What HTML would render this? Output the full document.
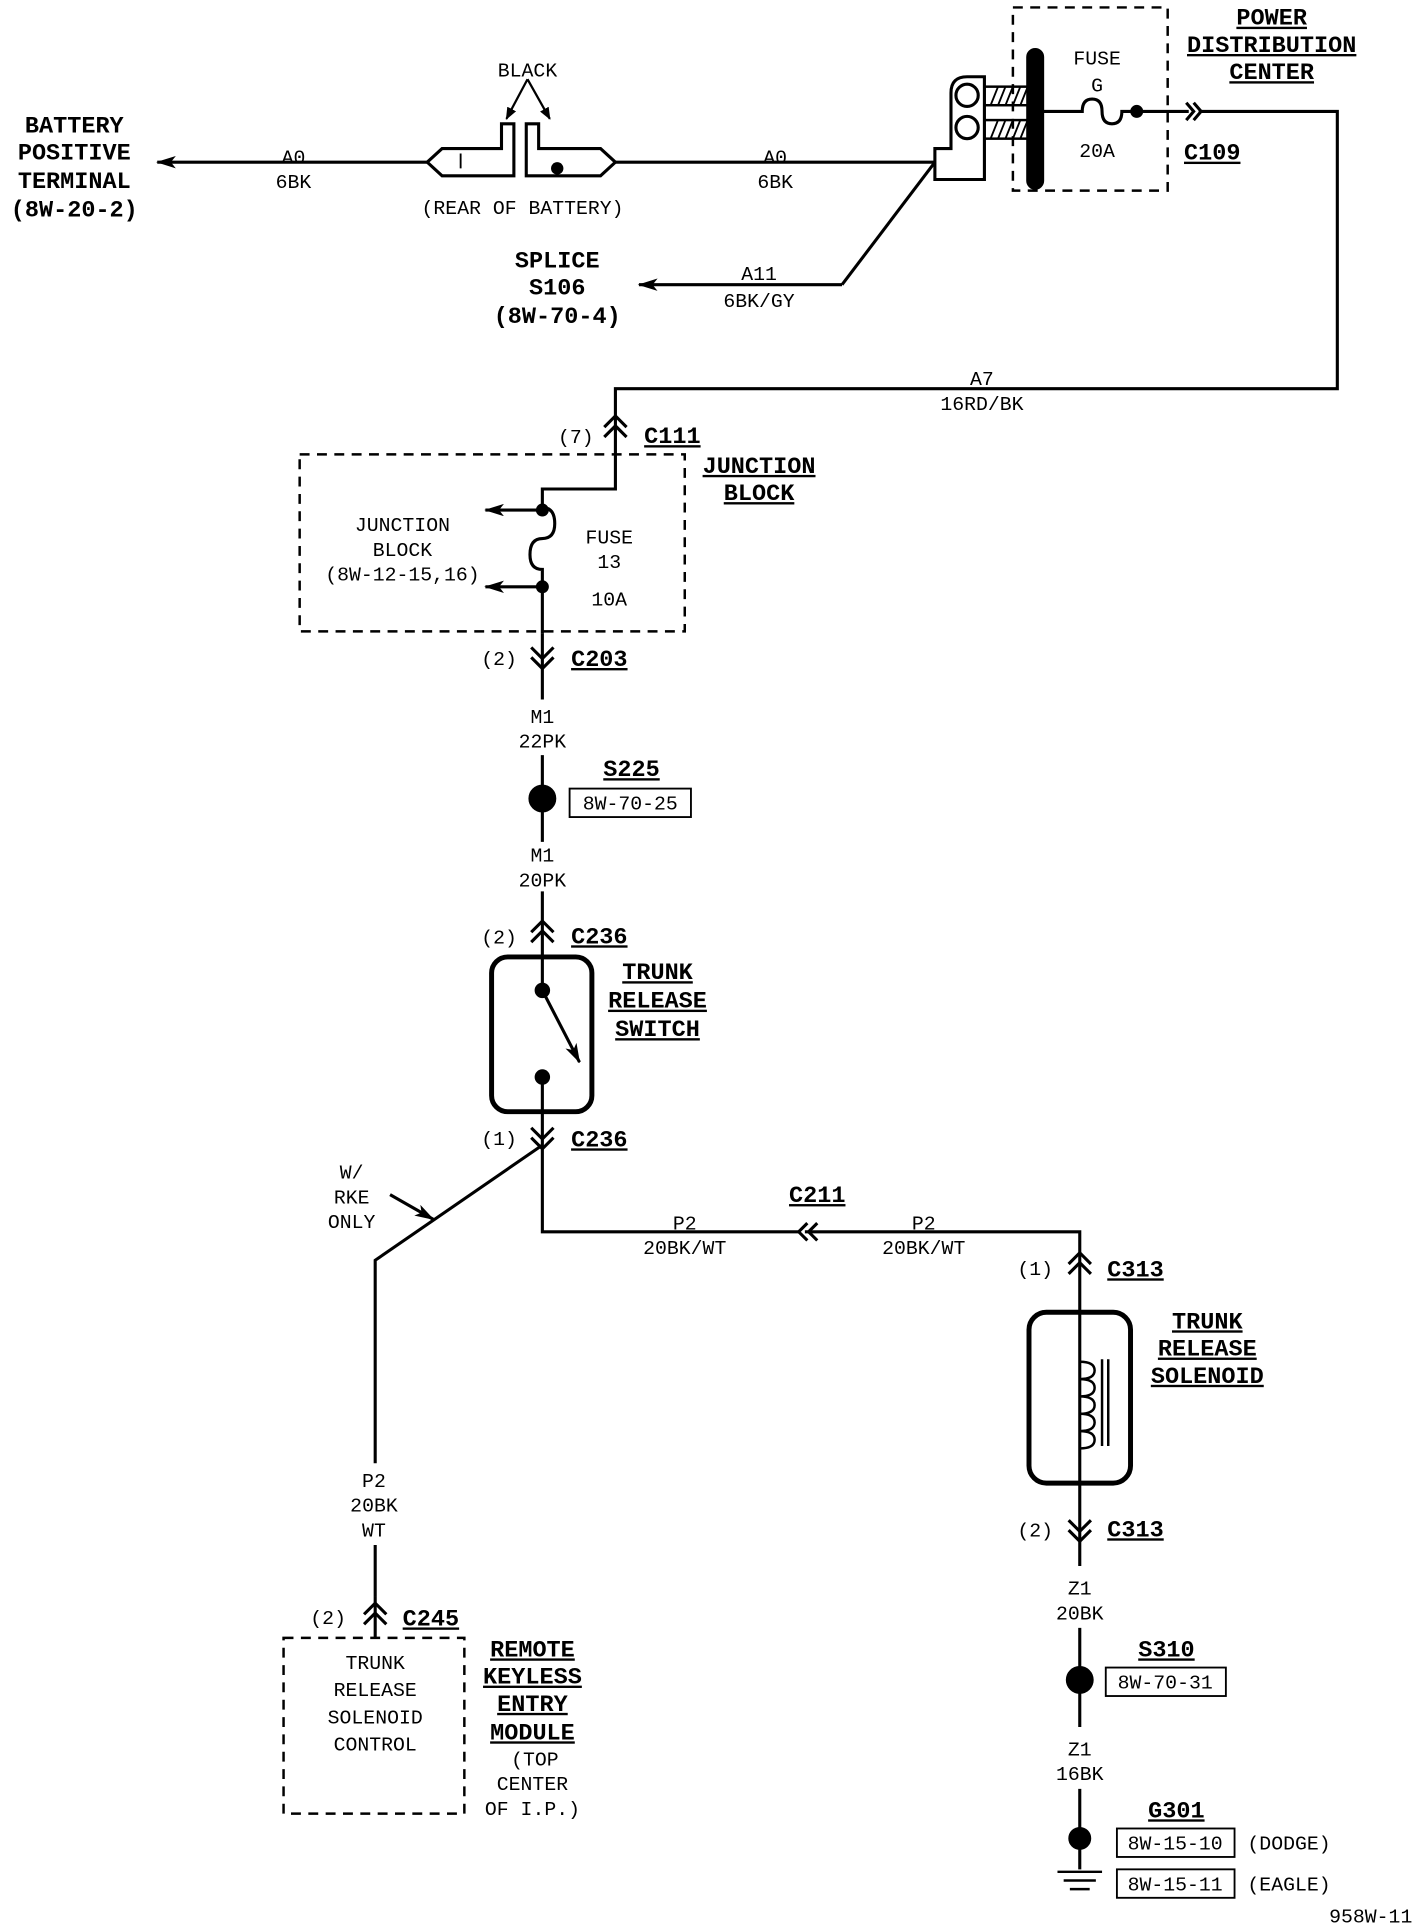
<!DOCTYPE html>
<html><head><meta charset="utf-8"><style>
html,body{margin:0;padding:0;background:#fff;}
svg{display:block;}
text{font-family:"Liberation Mono",monospace;fill:#000;}
.t{font-size:16px;text-anchor:middle;}
.b{font-size:19px;font-weight:bold;text-anchor:middle;}
.u{text-decoration:underline;}
</style></head><body>
<svg width="1424" height="1930" viewBox="0 0 1150 1559" preserveAspectRatio="none" xmlns="http://www.w3.org/2000/svg">
<defs>
<marker id="ar" markerWidth="10" markerHeight="8" refX="9" refY="4" orient="auto" markerUnits="userSpaceOnUse"><path d="M0,0 L10,4 L0,8 Z" fill="#000"/></marker>
<marker id="ar2" markerWidth="16" markerHeight="10" refX="15" refY="5" orient="auto" markerUnits="userSpaceOnUse"><path d="M0,0 L16,5 L0,10 L4,5 Z" fill="#000"/></marker>
</defs>
<g stroke="#000" stroke-width="2.5" fill="none">
<line x1="345" y1="131" x2="127" y2="131" marker-end="url(#ar2)"/>
<path d="M345,131 L357,120 L405,120 L405,100 L415,100 L415,142 L357,142 Z"/>
<path d="M372,124 L372,136" stroke-width="1.5"/>
<path d="M425,100 L435,100 L435,120 L485,120 L497,131 L485,142 L425,142 Z"/>
<line x1="426" y1="64" x2="409" y2="96" marker-end="url(#ar)" stroke-width="1.8"/>
<line x1="426" y1="64" x2="444" y2="96" marker-end="url(#ar)" stroke-width="1.8"/>
<line x1="497" y1="131" x2="755" y2="131"/>
<path d="M755,120 L768,120 L768,75 Q768,62 781,62 L795,62 L795,145 L755,145 Z"/>
<circle cx="781" cy="77" r="9"/><circle cx="781" cy="103" r="9"/>
<rect x="795" y="70" width="36" height="15" stroke-width="2"/>
<rect x="795" y="97" width="36" height="15" stroke-width="2"/>
<path d="M800,85 L806,70 M806,85 L812,70 M812,85 L818,70 M818,85 L824,70 M824,85 L830,70 M800,112 L806,97 M806,112 L812,97 M812,112 L818,97 M818,112 L824,97 M824,112 L830,97" stroke-width="1.5"/>
<rect x="830" y="40" width="12" height="112" rx="6" fill="#000"/>
<rect x="818" y="6" width="125" height="148" stroke-dasharray="8,6" stroke-width="2"/>
<path d="M842,90 L874,90 Q874,80 882,80 Q890,80 890,90 Q890,100 898,100 Q906,100 906,90 L960,90"/>
<circle cx="918" cy="90" r="4" fill="#000"/>
<path d="M958,83 L964,90 L958,97 M964,83 L970,90 L964,97"/>
<path d="M968,90 L1080,90 L1080,314 L497,314 L497,395 L438,395 L438,410 Q448,410 448,423 Q448,435 438,435 Q428,435 428,448 Q428,460 438,460 L438,512"/>
<line x1="755" y1="131" x2="680" y2="230"/>
<line x1="680" y1="230" x2="516" y2="230" marker-end="url(#ar2)"/>
<path d="M488,345 L497,336 L506,345 M488,353 L497,344 L506,353"/>
<rect x="242" y="367" width="311" height="143" stroke-dasharray="8,6" stroke-width="2"/>
<line x1="438" y1="412" x2="392" y2="412" marker-end="url(#ar2)"/>
<line x1="438" y1="474" x2="392" y2="474" marker-end="url(#ar2)"/>
<circle cx="438" cy="412" r="4" fill="#000"/><circle cx="438" cy="474" r="4" fill="#000"/>
<path d="M429,523 L438,532 L447,523 M429,531 L438,540 L447,531"/>
<line x1="438" y1="512" x2="438" y2="565"/>
<line x1="438" y1="610" x2="438" y2="680"/>
<circle cx="438" cy="645" r="10" fill="#000"/>
<rect x="460" y="637" width="98" height="23" stroke-width="1.5"/>
<line x1="438" y1="720" x2="438" y2="800"/>
<path d="M429,753 L438,744 L447,753 M429,761 L438,752 L447,761"/>
<rect x="397" y="773" width="81" height="125" rx="13" stroke-width="4"/>
<circle cx="438" cy="800" r="5" fill="#000"/><circle cx="438" cy="870" r="5" fill="#000"/>
<line x1="438" y1="800" x2="468" y2="858" marker-end="url(#ar2)"/>
<path d="M438,870 L438,995 L645,995"/>
<path d="M429,911 L438,920 L447,911 M429,919 L438,928 L447,919"/>
<path d="M438,925 L303,1018 L303,1182"/>
<line x1="303" y1="1248" x2="303" y2="1290"/>
<line x1="315" y1="965" x2="350" y2="985" marker-end="url(#ar2)"/>
<path d="M652,988 L645,995 L652,1002 M660,988 L653,995 L660,1002"/>
<path d="M650,995 L872,995 L872,1265"/>
<path d="M294,1304 L303,1295 L312,1304 M294,1312 L303,1303 L312,1312"/>
<line x1="303" y1="1290" x2="303" y2="1323"/>
<rect x="229" y="1323" width="146" height="142" stroke-dasharray="8,6" stroke-width="2"/>
<path d="M863,1021 L872,1012 L881,1021 M863,1029 L872,1020 L881,1029"/>
<rect x="831" y="1060" width="82" height="138" rx="14" stroke-width="4"/>
<path d="M872,1100 Q884,1100 884,1107 Q884,1114 872,1114 Q884,1114 884,1121 Q884,1128 872,1128 Q884,1128 884,1135 Q884,1142 872,1142 Q884,1142 884,1149 Q884,1156 872,1156 Q884,1156 884,1163 Q884,1170 872,1170" stroke-width="2"/>
<line x1="890" y1="1098" x2="890" y2="1168" stroke-width="2"/>
<line x1="895" y1="1098" x2="895" y2="1168" stroke-width="2"/>
<path d="M863,1228 L872,1237 L881,1228 M863,1236 L872,1245 L881,1236"/>
<line x1="872" y1="1315" x2="872" y2="1395"/>
<circle cx="872" cy="1357" r="10" fill="#000"/>
<rect x="893" y="1347" width="97" height="23" stroke-width="1.5"/>
<line x1="872" y1="1445" x2="872" y2="1510"/>
<circle cx="872" cy="1485" r="8" fill="#000"/>
<path d="M854,1512 L890,1512 M859,1519 L885,1519 M864,1526 L880,1526" stroke-width="2"/>
<rect x="902" y="1477" width="95" height="23" stroke-width="1.5"/>
<rect x="902" y="1510" width="95" height="23" stroke-width="1.5"/>
</g>
<circle cx="450" cy="136" r="5" fill="#000"/>
<text class="b" x="60" y="107">BATTERY</text>
<text class="b" x="60" y="129">POSITIVE</text>
<text class="b" x="60" y="152">TERMINAL</text>
<text class="b" x="60" y="175">(8W-20-2)</text>
<text class="t" x="237" y="132">A0</text><text class="t" x="237" y="152">6BK</text>
<text class="t" x="426" y="62">BLACK</text>
<text class="t" x="422" y="173">(REAR OF BATTERY)</text>
<text class="t" x="626" y="132">A0</text><text class="t" x="626" y="152">6BK</text>
<text class="t" x="886" y="52">FUSE</text><text class="t" x="886" y="74">G</text>
<text class="t" x="886" y="127">20A</text>
<text class="b u" x="1027" y="20">POWER</text>
<text class="b u" x="1027" y="42">DISTRIBUTION</text>
<text class="b u" x="1027" y="64">CENTER</text>
<text class="b u" x="979" y="129">C109</text>
<text class="b" x="450" y="216">SPLICE</text>
<text class="b" x="450" y="238">S106</text>
<text class="b" x="450" y="261">(8W-70-4)</text>
<text class="t" x="613" y="226">A11</text><text class="t" x="613" y="248">6BK/GY</text>
<text class="t" x="793" y="311">A7</text><text class="t" x="793" y="331">16RD/BK</text>
<text class="t" x="465" y="358">(7)</text>
<text class="b u" x="543" y="358">C111</text>
<text class="b u" x="613" y="382">JUNCTION</text>
<text class="b u" x="613" y="404">BLOCK</text>
<text class="t" x="325" y="429">JUNCTION</text>
<text class="t" x="325" y="449">BLOCK</text>
<text class="t" x="325" y="469">(8W-12-15,16)</text>
<text class="t" x="492" y="439">FUSE</text><text class="t" x="492" y="459">13</text><text class="t" x="492" y="489">10A</text>
<text class="t" x="403" y="537">(2)</text><text class="b u" x="484" y="538">C203</text>
<text class="t" x="438" y="584">M1</text><text class="t" x="438" y="604">22PK</text>
<text class="b u" x="510" y="627">S225</text>
<text class="t" x="509" y="654">8W-70-25</text>
<text class="t" x="438" y="696">M1</text><text class="t" x="438" y="716">20PK</text>
<text class="t" x="403" y="762">(2)</text><text class="b u" x="484" y="762">C236</text>
<text class="b u" x="531" y="791">TRUNK</text>
<text class="b u" x="531" y="814">RELEASE</text>
<text class="b u" x="531" y="837">SWITCH</text>
<text class="t" x="403" y="925">(1)</text><text class="b u" x="484" y="926">C236</text>
<text class="t" x="284" y="952">W/</text><text class="t" x="284" y="972">RKE</text><text class="t" x="284" y="992">ONLY</text>
<text class="b u" x="660" y="971">C211</text>
<text class="t" x="553" y="993">P2</text><text class="t" x="553" y="1013">20BK/WT</text>
<text class="t" x="746" y="993">P2</text><text class="t" x="746" y="1013">20BK/WT</text>
<text class="t" x="836" y="1030">(1)</text><text class="b u" x="917" y="1031">C313</text>
<text class="b u" x="975" y="1073">TRUNK</text>
<text class="b u" x="975" y="1095">RELEASE</text>
<text class="b u" x="975" y="1117">SOLENOID</text>
<text class="t" x="836" y="1241">(2)</text><text class="b u" x="917" y="1241">C313</text>
<text class="t" x="302" y="1201">P2</text><text class="t" x="302" y="1221">20BK</text><text class="t" x="302" y="1241">WT</text>
<text class="t" x="265" y="1312">(2)</text><text class="b u" x="348" y="1313">C245</text>
<text class="t" x="303" y="1348">TRUNK</text><text class="t" x="303" y="1370">RELEASE</text>
<text class="t" x="303" y="1392">SOLENOID</text><text class="t" x="303" y="1414">CONTROL</text>
<text class="b u" x="430" y="1338">REMOTE</text>
<text class="b u" x="430" y="1360">KEYLESS</text>
<text class="b u" x="430" y="1382">ENTRY</text>
<text class="b u" x="430" y="1405">MODULE</text>
<text class="t" x="432" y="1426">(TOP</text><text class="t" x="430" y="1446">CENTER</text><text class="t" x="430" y="1466">OF I.P.)</text>
<text class="t" x="872" y="1288">Z1</text><text class="t" x="872" y="1308">20BK</text>
<text class="b u" x="942" y="1338">S310</text>
<text class="t" x="941" y="1364">8W-70-31</text>
<text class="t" x="872" y="1418">Z1</text><text class="t" x="872" y="1438">16BK</text>
<text class="b u" x="950" y="1468">G301</text>
<text class="t" x="949" y="1494">8W-15-10</text><text class="t" x="1041" y="1494">(DODGE)</text>
<text class="t" x="949" y="1527">8W-15-11</text><text class="t" x="1041" y="1527">(EAGLE)</text>
<text class="t" x="1107" y="1553">958W-11</text>
</svg>
</body></html>
